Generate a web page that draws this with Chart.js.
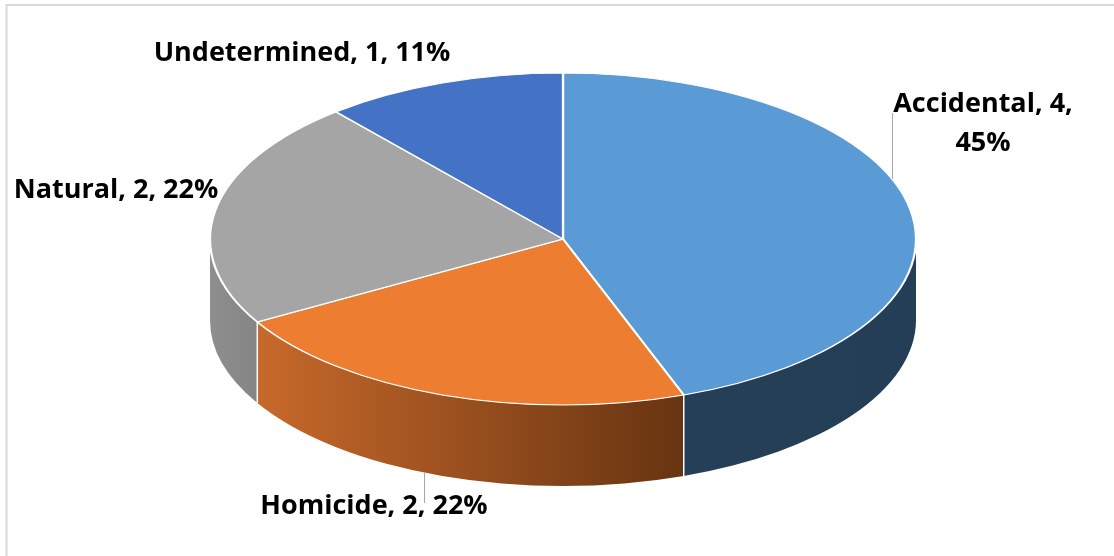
<!DOCTYPE html>
<html>
<head>
<meta charset="utf-8">
<script src="https://cdn.jsdelivr.net/npm/chart.js@4.4.1/dist/chart.umd.min.js"></script>
<style>
  html, body { margin: 0; padding: 0; background: #fff; }
</style>
</head>
<body>
<canvas id="pie" width="1114" height="556"></canvas>
<script>
const categories = ['Accidental', 'Homicide', 'Natural', 'Undetermined'];
const counts = [4, 2, 2, 1];
const pctLabels = ['45%', '22%', '22%', '11%']; // as printed on the chart
const topColors = ['#5B9BD5', '#ED7D31', '#A5A5A5', '#4472C4'];
const sideColors = [['#243F57', '#243E55'], ['#C8692B', '#673411'], ['#8E8E8E', '#858585'], ['#2F5597', '#2F5597']];

// where the flattened pie sits on the page
const tilt = { cx: 563, cy: 239, rx: 353, ry: 166, depth: 81 };

// label placement: centre x, baseline y of first line, optional wrap width, optional leader
const labelSpots = [
    { x: 983, y: 112, wrap: 210, leader: { x: 892, y: 113, face: 'top' } },
    { x: 374, y: 514, leader: { x: 424, y: 503, face: 'bottom' } },
    { x: 116, y: 198 },
    { x: 302, y: 61 },
];

const ellipseY = (x, face) => {
    const { cx, cy, rx, ry, depth } = tilt;
    const c = Math.max(-1, Math.min(1, (x - cx) / rx));
    const s = Math.sqrt(1 - c * c);
    return face === 'top' ? cy - ry * s : cy + depth + ry * s;
};

const tiltPlugin = {
    id: 'tilt3d',
    beforeDraw(chart) {
        const ctx = chart.ctx;
        ctx.save();
        ctx.strokeStyle = '#d9d9d9';
        ctx.lineWidth = 2;
        ctx.strokeRect(6.5, 5, 1200, 700);
        ctx.restore();
    },
    beforeDatasetsDraw(chart) {
        const ctx = chart.ctx;
        const meta = chart.getDatasetMeta(0);
        const { cx, cy, rx, ry, depth } = tilt;

        // side walls of the front half
        meta.data.forEach((arc, i) => {
            const a = Math.max(arc.startAngle, 0);
            const b = Math.min(arc.endAngle, Math.PI);
            if (b <= a) return;
            const xLeft = cx + rx * Math.cos(b);
            const xRight = cx + rx * Math.cos(a);
            const grad = ctx.createLinearGradient(xLeft, 0, xRight, 0);
            grad.addColorStop(0, sideColors[i][0]);
            grad.addColorStop(1, sideColors[i][1]);
            ctx.beginPath();
            ctx.ellipse(cx, cy, rx, ry, 0, a, b, false);
            ctx.ellipse(cx, cy + depth, rx, ry, 0, b, a, true);
            ctx.closePath();
            ctx.fillStyle = grad;
            ctx.fill();
        });

        // white seams where slices meet on the wall
        ctx.save();
        ctx.strokeStyle = '#ffffff';
        ctx.lineWidth = 1.5;
        meta.data.forEach((arc) => {
            const t = arc.endAngle;
            if (t > 0 && t < Math.PI) {
                const x = cx + rx * Math.cos(t);
                const y = cy + ry * Math.sin(t);
                ctx.beginPath();
                ctx.moveTo(x, y);
                ctx.lineTo(x, y + depth);
                ctx.stroke();
            }
        });
        ctx.restore();

        // squash the flat pie into the top face
        const arc0 = meta.data[0];
        const R = arc0.outerRadius;
        ctx.save();
        ctx.translate(cx, cy);
        ctx.scale(rx / R, ry / R);
        ctx.translate(-arc0.x, -arc0.y);
    },
    afterDatasetsDraw(chart) {
        chart.ctx.restore();
    },
    afterDraw(chart) {
        const ctx = chart.ctx;
        ctx.save();
        ctx.font = '700 27px "Open Sans"';
        ctx.fillStyle = '#000000';
        ctx.textAlign = 'center';
        ctx.textBaseline = 'alphabetic';
        labelSpots.forEach((spot, i) => {
            if (spot.leader) {
                const ly = ellipseY(spot.leader.x, spot.leader.face);
                ctx.strokeStyle = '#a6a6a6';
                ctx.lineWidth = 1;
                ctx.beginPath();
                ctx.moveTo(spot.leader.x + 0.5, spot.leader.y);
                ctx.lineTo(spot.leader.x + 0.5, ly);
                ctx.stroke();
            }
            const text = categories[i] + ', ' + counts[i] + ', ' + pctLabels[i];
            let lines = [text];
            if (spot.wrap) {
                lines = [];
                let cur = '';
                text.split(' ').forEach((w) => {
                    const test = cur ? cur + ' ' + w : w;
                    if (cur && ctx.measureText(test).width > spot.wrap) {
                        lines.push(cur);
                        cur = w;
                    } else {
                        cur = test;
                    }
                });
                lines.push(cur);
            }
            lines.forEach((ln, k) => {
                ctx.fillText(ln, spot.x, spot.y + k * 39);
            });
        });
        ctx.restore();
    },
};

const ctx = document.getElementById('pie').getContext('2d');

const config = {
    type: 'pie',
    data: {
        labels: categories,
        datasets: [
            {
                data: counts,
                backgroundColor: topColors,
                borderColor: '#ffffff',
                borderWidth: 1.8,
            },
        ],
    },
    options: {
        responsive: false,
        animation: false,
        events: [],
        layout: { padding: 0 },
        plugins: {
            legend: { display: false },
            tooltip: { enabled: false },
        },
    },
    plugins: [tiltPlugin],
};

const myChart = new Chart(ctx, config);
</script>
</body>
</html>
